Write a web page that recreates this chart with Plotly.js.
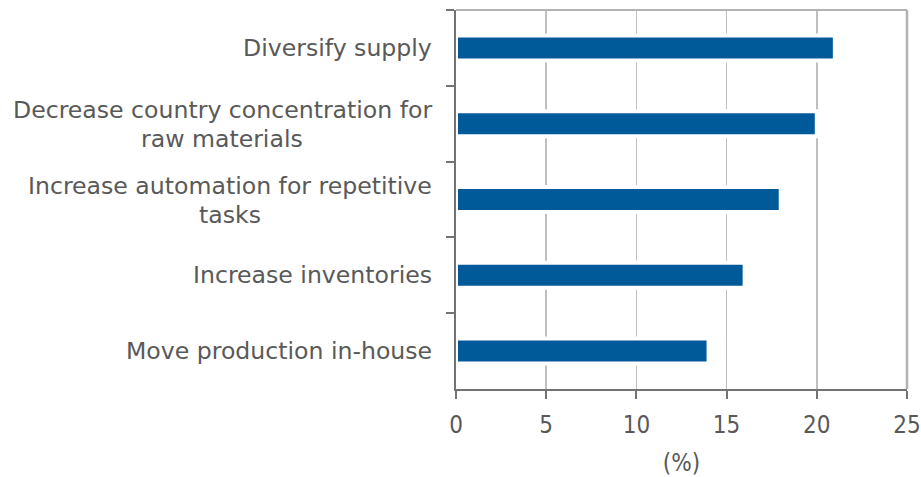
<!DOCTYPE html>
<html>
<head>
<meta charset="utf-8">
<script src="https://cdn.plot.ly/plotly-3.0.1.min.js"></script>
<style>html,body{margin:0;padding:0;background:#fff;}#chart{width:921px;height:477px;}</style>
</head>
<body>
<div id="chart"></div>
<script>
var categories = [
  "Diversify supply",
  "Decrease country concentration for<br>raw materials",
  "Increase automation for repetitive<br>tasks",
  "Increase inventories",
  "Move production in-house"
];
var values = [21, 20, 18, 16, 14];
var xTicks = [0, 5, 10, 15, 20, 25];
var xTitle = "(%)";

var LFONT = "DejaVu Sans";
var TFONT = "DejaVu Sans Condensed";
var LSIZE = 23.6;
var TSIZE = 24;
var TXT = "#595959";
var LINE_GAP = 29;

var trace = {
  type: "bar",
  orientation: "h",
  y: categories,
  x: values,
  marker: {color: "#005a9a", line: {color: "#ffffff", width: 4}},
  width: 0.33,
  hoverinfo: "none"
};

function buildAnnotations(ctx) {
  var out = [];
  categories.forEach(function (c) {
    var lines = c.split("<br>");
    var widths = lines.map(function (l) { return ctx.measureText(l).width; });
    var maxW = Math.max.apply(null, widths);
    lines.forEach(function (l, i) {
      out.push({
        text: l, xref: "paper", yref: "y", x: 0, y: c,
        xanchor: "center", yanchor: "middle",
        xshift: -24 - maxW / 2,
        yshift: ((lines.length - 1) / 2 - i) * LINE_GAP - (lines.length > 1 ? 1 : 0),
        showarrow: false, font: {family: LFONT, size: LSIZE, color: TXT}
      });
    });
  });
  return out;
}

var layout = {
  width: 921, height: 477,
  margin: {l: 456, r: 14, t: 10, b: 88},
  paper_bgcolor: "#fff", plot_bgcolor: "#fff",
  showlegend: false,
  xaxis: {
    range: [0, 25], tickvals: xTicks, ticktext: xTicks.map(String),
    showgrid: true, gridcolor: "#bfbfbf", gridwidth: 1.5,
    zeroline: false, showline: true, linecolor: "#737373", linewidth: 2,
    ticks: "outside", ticklen: 8, tickwidth: 2, tickcolor: "#737373",
    ticklabelstandoff: 5, ticklabeloverflow: "allow",
    tickfont: {family: TFONT, size: TSIZE, color: TXT},
    title: {text: xTitle, font: {family: TFONT, size: TSIZE, color: TXT}, standoff: 16},
    fixedrange: true
  },
  yaxis: {
    type: "category", autorange: "reversed",
    showticklabels: false,
    showgrid: false, zeroline: false, showline: true, linecolor: "#737373", linewidth: 2,
    ticks: "outside", tickson: "boundaries", ticklen: 8, tickwidth: 2, tickcolor: "#737373",
    fixedrange: true
  },
  shapes: [
    {type: "line", xref: "paper", yref: "paper", x0: 0, x1: 1, y0: 1, y1: 1, line: {color: "#b3b3b3", width: 2}},
    {type: "line", xref: "paper", yref: "paper", x0: 1, x1: 1, y0: 0, y1: 1, line: {color: "#b3b3b3", width: 2.5}}
  ],
  annotations: []
};

var ctx = document.createElement("canvas").getContext("2d");
var fontSpec = LSIZE + "px '" + LFONT + "'";
Promise.all([document.fonts.load(fontSpec), document.fonts.load(TSIZE + "px '" + TFONT + "'")]).then(function () {
  ctx.font = fontSpec;
  layout.annotations = buildAnnotations(ctx);
  Plotly.newPlot("chart", [trace], layout, {displayModeBar: false, staticPlot: true});
});
</script>
</body>
</html>
